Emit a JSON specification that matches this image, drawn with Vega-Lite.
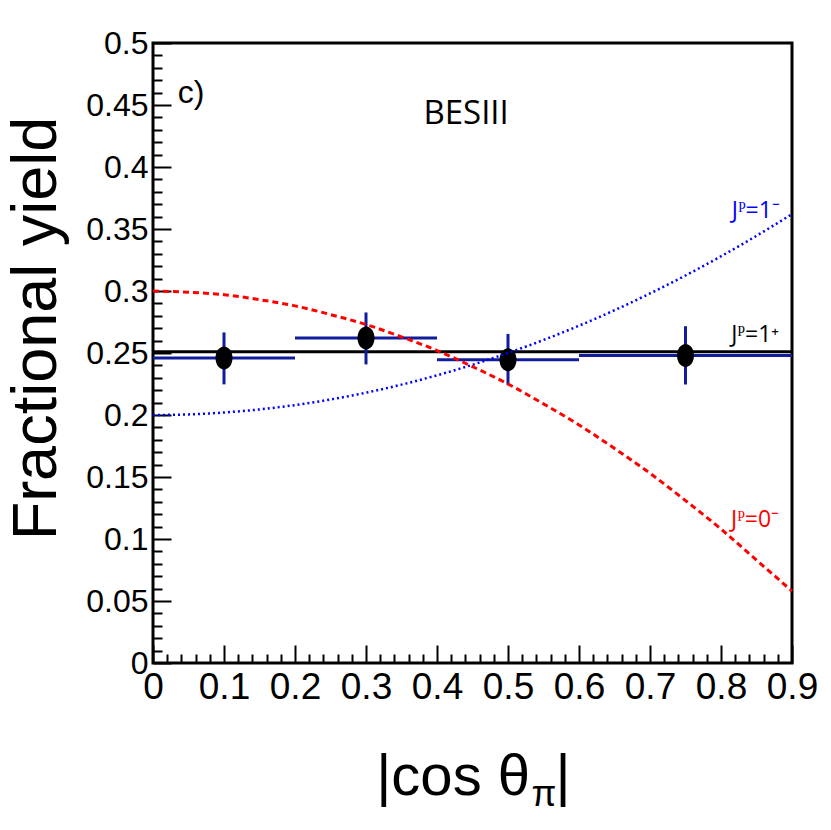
{
  "$schema": "https://vega.github.io/schema/vega-lite/v6.json",
  "autosize": {"type": "none"},
  "padding": {"left": 153, "top": 43, "right": 39, "bottom": 167},
  "width": 639,
  "height": 620,
  "background": "white",
  "config": {
    "view": {"stroke": "black", "strokeWidth": 3},
    "axis": {"domain": false, "grid": false}
  },
  "datasets": {
    "bins": [
      {"x": 0.1, "xlo": 0.0, "xhi": 0.2, "y": 0.246, "ylo": 0.2247, "yhi": 0.2666},
      {"x": 0.3, "xlo": 0.2, "xhi": 0.4, "y": 0.262, "ylo": 0.2408, "yhi": 0.2827},
      {"x": 0.5, "xlo": 0.4, "xhi": 0.6, "y": 0.2445, "ylo": 0.2241, "yhi": 0.2654},
      {"x": 0.75, "xlo": 0.6, "xhi": 0.9, "y": 0.248, "ylo": 0.2246, "yhi": 0.2716}
    ],
    "curves": [
      {"model": "0-", "x": 0.0, "y": 0.300}, {"model": "0-", "x": 0.05, "y": 0.299},
      {"model": "0-", "x": 0.1, "y": 0.297}, {"model": "0-", "x": 0.15, "y": 0.293},
      {"model": "0-", "x": 0.2, "y": 0.288}, {"model": "0-", "x": 0.25, "y": 0.281},
      {"model": "0-", "x": 0.3, "y": 0.273}, {"model": "0-", "x": 0.35, "y": 0.263},
      {"model": "0-", "x": 0.4, "y": 0.252}, {"model": "0-", "x": 0.45, "y": 0.239},
      {"model": "0-", "x": 0.5, "y": 0.225}, {"model": "0-", "x": 0.55, "y": 0.209},
      {"model": "0-", "x": 0.6, "y": 0.192}, {"model": "0-", "x": 0.65, "y": 0.173},
      {"model": "0-", "x": 0.7, "y": 0.153}, {"model": "0-", "x": 0.75, "y": 0.131},
      {"model": "0-", "x": 0.8, "y": 0.108}, {"model": "0-", "x": 0.85, "y": 0.083},
      {"model": "0-", "x": 0.9, "y": 0.058},
      {"model": "1-", "x": 0.0, "y": 0.200}, {"model": "1-", "x": 0.05, "y": 0.2005},
      {"model": "1-", "x": 0.1, "y": 0.202}, {"model": "1-", "x": 0.15, "y": 0.2045},
      {"model": "1-", "x": 0.2, "y": 0.208}, {"model": "1-", "x": 0.25, "y": 0.2125},
      {"model": "1-", "x": 0.3, "y": 0.218}, {"model": "1-", "x": 0.35, "y": 0.2245},
      {"model": "1-", "x": 0.4, "y": 0.232}, {"model": "1-", "x": 0.45, "y": 0.2405},
      {"model": "1-", "x": 0.5, "y": 0.250}, {"model": "1-", "x": 0.55, "y": 0.2605},
      {"model": "1-", "x": 0.6, "y": 0.272}, {"model": "1-", "x": 0.65, "y": 0.2845},
      {"model": "1-", "x": 0.7, "y": 0.298}, {"model": "1-", "x": 0.75, "y": 0.3125},
      {"model": "1-", "x": 0.8, "y": 0.328}, {"model": "1-", "x": 0.85, "y": 0.3445},
      {"model": "1-", "x": 0.9, "y": 0.362}
    ]
  },
  "layer": [
    {
      "data": {"values": [{"x": 0.0, "x2": 0.9, "y": 0.251}]},
      "mark": {"type": "rule", "color": "black", "strokeWidth": 3},
      "encoding": {
        "x": {
          "field": "x", "type": "quantitative",
          "scale": {"domain": [0, 0.9], "nice": false, "zero": false},
          "axis": {
            "orient": "bottom", "ticks": false, "format": "~g",
            "values": [0, 0.1, 0.2, 0.3, 0.4, 0.5, 0.6, 0.7, 0.8, 0.9],
            "labelFont": "Liberation Sans", "labelFontSize": 37,
            "labelColor": "black", "labelPadding": 6, "labelFlush": false,
            "labelOverlap": false, "title": null
          }
        },
        "x2": {"field": "x2"},
        "y": {
          "field": "y", "type": "quantitative",
          "scale": {"domain": [0, 0.5], "nice": false, "zero": false},
          "axis": {
            "orient": "left", "ticks": false, "format": "~g",
            "values": [0, 0.05, 0.1, 0.15, 0.2, 0.25, 0.3, 0.35, 0.4, 0.45, 0.5],
            "labelFont": "Liberation Sans", "labelFontSize": 32,
            "labelColor": "black", "labelPadding": 5, "labelFlush": false,
            "labelOverlap": false,
            "title": "Fractional yield", "titleFont": "Liberation Sans",
            "titleFontSize": 63, "titleFontWeight": "normal", "titleColor": "black",
            "titleAngle": -90, "titleBaseline": "alphabetic", "titleAlign": "center",
            "titleX": -98, "titleY": 285
          }
        }
      }
    },
    {
      "data": {"name": "bins"},
      "mark": {"type": "rule", "color": "#101c9a", "strokeWidth": 3},
      "encoding": {
        "x": {
          "field": "xlo", "type": "quantitative",
          "scale": {"domain": [0, 0.9], "nice": false, "zero": false},
          "axis": {
            "orient": "bottom", "labels": false, "title": null,
            "values": [0, 0.1, 0.2, 0.3, 0.4, 0.5, 0.6, 0.7, 0.8, 0.9],
            "tickSize": -18, "tickWidth": 2, "tickColor": "black"
          }
        },
        "x2": {"field": "xhi"},
        "y": {
          "field": "y", "type": "quantitative",
          "scale": {"domain": [0, 0.5], "nice": false, "zero": false},
          "axis": {
            "orient": "left", "labels": false, "title": null,
            "values": [0, 0.05, 0.1, 0.15, 0.2, 0.25, 0.3, 0.35, 0.4, 0.45, 0.5],
            "tickSize": -18, "tickWidth": 2, "tickColor": "black"
          }
        }
      }
    },
    {
      "data": {"name": "bins"},
      "mark": {"type": "rule", "color": "#101c9a", "strokeWidth": 3},
      "encoding": {
        "x": {
          "field": "x", "type": "quantitative",
          "scale": {"domain": [0, 0.9], "nice": false, "zero": false},
          "axis": {
            "orient": "bottom", "labels": false, "title": null,
            "values": [0.02, 0.04, 0.06, 0.08, 0.12, 0.14, 0.16, 0.18, 0.22, 0.24, 0.26, 0.28, 0.32, 0.34, 0.36, 0.38, 0.42, 0.44, 0.46, 0.48, 0.52, 0.54, 0.56, 0.58, 0.62, 0.64, 0.66, 0.68, 0.72, 0.74, 0.76, 0.78, 0.82, 0.84, 0.86, 0.88],
            "tickSize": -9, "tickWidth": 2, "tickColor": "black"
          }
        },
        "y": {
          "field": "ylo", "type": "quantitative",
          "scale": {"domain": [0, 0.5], "nice": false, "zero": false},
          "axis": {
            "orient": "left", "labels": false, "title": null,
            "values": [0.01, 0.02, 0.03, 0.04, 0.06, 0.07, 0.08, 0.09, 0.11, 0.12, 0.13, 0.14, 0.16, 0.17, 0.18, 0.19, 0.21, 0.22, 0.23, 0.24, 0.26, 0.27, 0.28, 0.29, 0.31, 0.32, 0.33, 0.34, 0.36, 0.37, 0.38, 0.39, 0.41, 0.42, 0.43, 0.44, 0.46, 0.47, 0.48, 0.49],
            "tickSize": -9, "tickWidth": 2, "tickColor": "black"
          }
        },
        "y2": {"field": "yhi"}
      }
    },
    {
      "data": {"name": "bins"},
      "mark": {
        "type": "point", "filled": true, "color": "black", "opacity": 1,
        "shape": "M0,-1A0.74,1 0 1,1 0,1A0.74,1 0 1,1 0,-1Z", "size": 529
      },
      "encoding": {
        "x": {"field": "x", "type": "quantitative", "axis": null},
        "y": {"field": "y", "type": "quantitative", "axis": null}
      }
    },
    {
      "data": {"name": "curves"},
      "transform": [{"filter": "datum.model == '0-'"}],
      "mark": {"type": "line", "color": "#ff0000", "strokeWidth": 3, "strokeDash": [6, 4], "interpolate": "monotone"},
      "encoding": {
        "x": {"field": "x", "type": "quantitative", "axis": null},
        "y": {"field": "y", "type": "quantitative", "axis": null}
      }
    },
    {
      "data": {"name": "curves"},
      "transform": [{"filter": "datum.model == '1-'"}],
      "mark": {"type": "line", "color": "#0000ff", "strokeWidth": 2.5, "strokeDash": [2, 3], "interpolate": "monotone"},
      "encoding": {
        "x": {"field": "x", "type": "quantitative", "axis": null},
        "y": {"field": "y", "type": "quantitative", "axis": null}
      }
    },
    {
      "data": {"values": [
        {"x": 0.849, "y": 0.359, "label": "Jᴾ=1⁻", "color": "1-"},
        {"x": 0.848, "y": 0.2587, "label": "Jᴾ=1⁺", "color": "1+"},
        {"x": 0.848, "y": 0.1096, "label": "Jᴾ=0⁻", "color": "0-"}
      ]},
      "mark": {"type": "text", "font": "Open Sans", "fontSize": 23, "align": "center", "baseline": "alphabetic"},
      "encoding": {
        "x": {"field": "x", "type": "quantitative", "axis": null},
        "y": {"field": "y", "type": "quantitative", "axis": null},
        "text": {"field": "label"},
        "color": {
          "field": "color", "type": "nominal", "legend": null,
          "scale": {"domain": ["1-", "1+", "0-"], "range": ["#0000ff", "black", "#ff0000"]}
        }
      }
    },
    {
      "data": {"values": [{"x": 0.441, "y": 0.435, "label": "BESIII"}]},
      "mark": {"type": "text", "font": "Open Sans", "fontSize": 33, "align": "center", "baseline": "alphabetic", "color": "black"},
      "encoding": {
        "x": {"field": "x", "type": "quantitative", "axis": null},
        "y": {"field": "y", "type": "quantitative", "axis": null},
        "text": {"field": "label"}
      }
    },
    {
      "data": {"values": [{"x": 0.035, "y": 0.452, "label": "c)"}]},
      "mark": {"type": "text", "font": "Liberation Sans", "fontSize": 32, "align": "left", "baseline": "alphabetic", "color": "black"},
      "encoding": {
        "x": {"field": "x", "type": "quantitative", "axis": null},
        "y": {"field": "y", "type": "quantitative", "axis": null},
        "text": {"field": "label"}
      }
    },
    {
      "data": {"values": [{"x": 0.531, "y": -0.1064, "label": "|cos θ"}]},
      "mark": {"type": "text", "font": "Liberation Sans", "fontSize": 58, "align": "right", "baseline": "alphabetic", "color": "black", "clip": false},
      "encoding": {
        "x": {"field": "x", "type": "quantitative", "axis": null},
        "y": {"field": "y", "type": "quantitative", "axis": null},
        "text": {"field": "label"}
      }
    },
    {
      "data": {"values": [{"x": 0.533, "y": -0.1153, "label": "π"}]},
      "mark": {"type": "text", "font": "Liberation Sans", "fontSize": 36, "align": "left", "baseline": "alphabetic", "color": "black", "clip": false},
      "encoding": {
        "x": {"field": "x", "type": "quantitative", "axis": null},
        "y": {"field": "y", "type": "quantitative", "axis": null},
        "text": {"field": "label"}
      }
    },
    {
      "data": {"values": [{"x": 0.567, "y": -0.1064, "label": "|"}]},
      "mark": {"type": "text", "font": "Liberation Sans", "fontSize": 58, "align": "left", "baseline": "alphabetic", "color": "black", "clip": false},
      "encoding": {
        "x": {"field": "x", "type": "quantitative", "axis": null},
        "y": {"field": "y", "type": "quantitative", "axis": null},
        "text": {"field": "label"}
      }
    }
  ],
  "resolve": {"axis": {"x": "independent", "y": "independent"}}
}
